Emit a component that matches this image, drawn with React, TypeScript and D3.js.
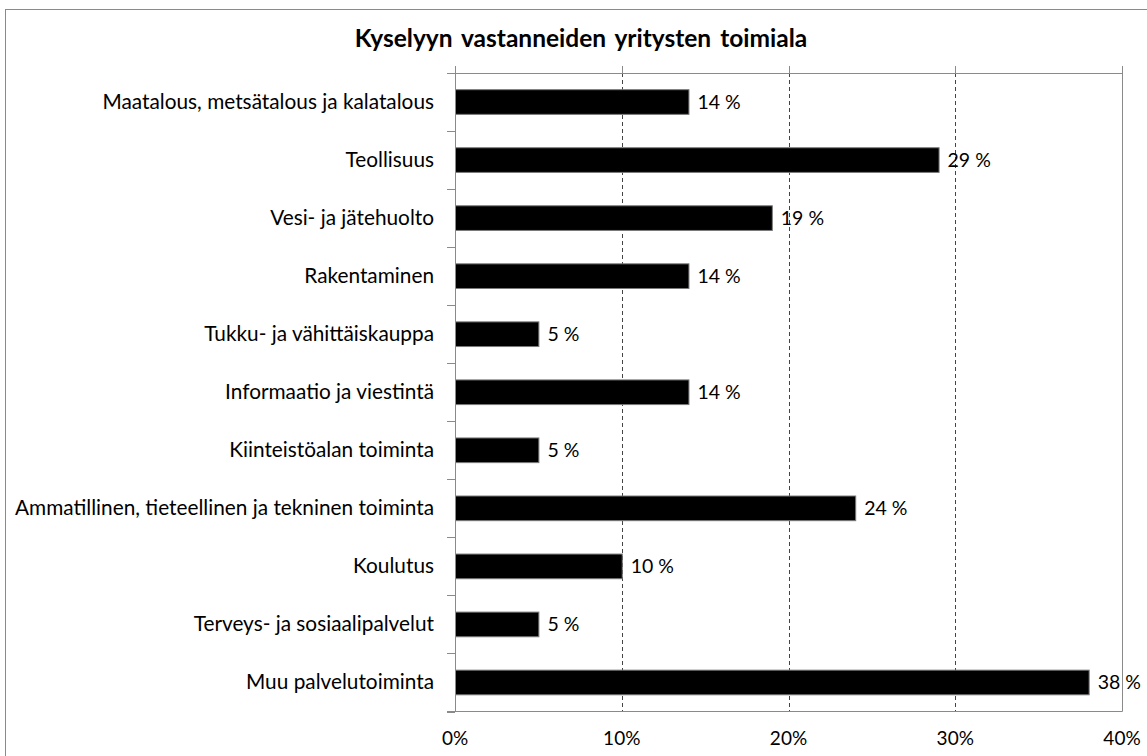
import React from "react";
import * as d3 from "d3";

const title = "Kyselyyn vastanneiden yritysten toimiala";
const categories = [
  "Maatalous, metsätalous ja kalatalous",
  "Teollisuus",
  "Vesi- ja jätehuolto",
  "Rakentaminen",
  "Tukku- ja vähittäiskauppa",
  "Informaatio ja viestintä",
  "Kiinteistöalan toiminta",
  "Ammatillinen, tieteellinen ja tekninen toiminta",
  "Koulutus",
  "Terveys- ja sosiaalipalvelut",
  "Muu palvelutoiminta",
];
const values = [14, 29, 19, 14, 5, 14, 5, 24, 10, 5, 38];
const tickValues = [0, 10, 20, 30, 40];

const W = 1147;
const H = 756;
const left = 455;
const right = 1122;
const top = 73;
const bottom = 711.5;
const font = "Lato, 'Open Sans', sans-serif";

export default function App() {
  const x = d3.scaleLinear().domain([0, 40]).range([left, right]);
  const y = d3
    .scaleBand<string>()
    .domain(categories)
    .range([top, bottom])
    .paddingInner(0.575)
    .paddingOuter(0.2875);
  const step = y.step();
  const bounds = d3.range(categories.length + 1).map((i) => top + i * step);

  return (
    <svg
      width={W}
      height={H}
      style={{ position: "absolute", left: 0, top: 0, background: "#fff" }}
    >
      <rect x={5.5} y={9.5} width={W + 10} height={H + 10} fill="#fff" stroke="#8a8a8a" strokeWidth={1} />
      <text
        x={581}
        y={47}
        textAnchor="middle"
        fontFamily={font}
        fontWeight="bold"
        fontSize={24.5}
        wordSpacing={3}
        fill="#000"
      >
        {title}
      </text>

      {/* gridlines */}
      {tickValues.slice(1, -1).map((t) => (
        <line
          key={"g" + t}
          x1={Math.round(x(t)) + 0.5}
          x2={Math.round(x(t)) + 0.5}
          y1={top}
          y2={bottom}
          stroke="#444"
          strokeDasharray="4,3"
          strokeWidth={1}
        />
      ))}
      {/* top ticks */}
      {tickValues.map((t) => (
        <line
          key={"tt" + t}
          x1={Math.round(x(t)) + 0.5}
          x2={Math.round(x(t)) + 0.5}
          y1={66}
          y2={top}
          stroke="#8a8a8a"
        />
      ))}
      {/* plot frame */}
      <line x1={447} x2={right + 0.5} y1={top + 0.5} y2={top + 0.5} stroke="#8a8a8a" />
      <line x1={447} x2={right + 0.5} y1={bottom} y2={bottom} stroke="#8a8a8a" />
      <line x1={Math.round(x(40)) + 0.5} x2={Math.round(x(40)) + 0.5} y1={top} y2={bottom} stroke="#8a8a8a" />
      {/* category ticks */}
      {bounds.map((b, i) => (
        <line key={"ct" + i} x1={447} x2={left} y1={Math.round(b) + 0.5} y2={Math.round(b) + 0.5} stroke="#8a8a8a" />
      ))}

      {/* bars */}
      {categories.map((c, i) => (
        <rect
          key={c}
          x={x(0) + 0.5}
          y={y(c)!}
          width={x(values[i]) - x(0)}
          height={y.bandwidth()}
          fill="#000"
          stroke="#7a7a7a"
          strokeWidth={1}
        />
      ))}
      {/* left axis line */}
      <line x1={left + 0.5} x2={left + 0.5} y1={66} y2={bottom} stroke="#8a8a8a" />

      {/* value labels */}
      {categories.map((c, i) => (
        <text
          key={"v" + c}
          x={x(values[i]) + 9}
          y={y(c)! + y.bandwidth() / 2 + 6.5}
          fontFamily={font}
          fontSize={19.5}
          fill="#000"
        >
          {values[i] + " %"}
        </text>
      ))}

      {/* category labels */}
      {categories.map((c) => (
        <text
          key={"c" + c}
          x={434}
          y={y(c)! + y.bandwidth() / 2 + 6.5}
          textAnchor="end"
          fontFamily={font}
          fontSize={20.8}
          fill="#000"
        >
          {c}
        </text>
      ))}

      {/* tick labels */}
      {tickValues.map((t) => (
        <text
          key={"tl" + t}
          x={x(t)}
          y={745}
          textAnchor="middle"
          fontFamily={font}
          fontSize={19}
          fill="#000"
        >
          {t + "%"}
        </text>
      ))}
    </svg>
  );
}
